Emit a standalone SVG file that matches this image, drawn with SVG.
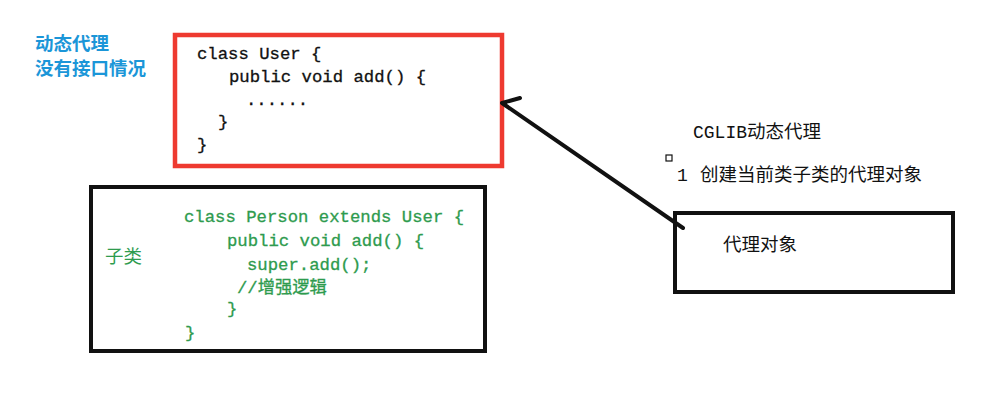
<svg xmlns="http://www.w3.org/2000/svg" width="1002" height="409" viewBox="0 0 1002 409">
<style>
.code{font-family:"Liberation Mono","Noto Sans CJK SC",monospace;font-size:17.3px;fill:#111;stroke:#111;stroke-width:0.3}
.green{fill:#2e9b4e;stroke:#2e9b4e}
.blue{font-family:"Noto Sans CJK SC",sans-serif;font-size:18.5px;font-weight:bold;fill:#1b96d8}
.note{font-family:"Liberation Mono","Noto Sans CJK SC",monospace;font-size:18px;fill:#111}
.cjk{font-family:"Noto Sans CJK SC",sans-serif;font-size:18.5px}
.box{fill:none;stroke:#111;stroke-width:4}
</style>
<rect width="1002" height="409" fill="#ffffff"/>
<g id="label-dynamic">
<text class="blue" x="35" y="50">动态代理</text>
<text class="blue" x="35" y="75">没有接口情况</text>
</g>
<g id="node-user">
<rect x="175" y="35" width="327" height="131" fill="none" stroke="#ee3a30" stroke-width="4.5"/>
<text class="code" x="197" y="59">class User {</text>
<text class="code" x="229" y="82">public void add() {</text>
<text class="code" x="246" y="105">......</text>
<text class="code" x="218" y="127">}</text>
<text class="code" x="197" y="150">}</text>
</g>
<g id="node-person">
<rect class="box" x="91" y="187" width="394" height="164"/>
<text class="cjk" x="105" y="263" fill="#2e9b4e">子类</text>
<text class="code green" x="184" y="222">class Person extends User {</text>
<text class="code green" x="227" y="246">public void add() {</text>
<text class="code green" x="247" y="270">super.add();</text>
<text class="code green" x="237" y="293">//增强逻辑</text>
<text class="code green" x="227" y="314">}</text>
<text class="code green" x="185" y="338">}</text>
</g>
<g id="label-cglib">
<text class="note" x="693" y="138">CGLIB<tspan class="cjk">动态代理</tspan></text>
<rect x="666" y="155" width="6" height="6" fill="none" stroke="#111" stroke-width="1.2"/>
<text class="note" x="677" y="181">1 <tspan class="cjk" x="700" font-size="19px">创建当前类子类的代理对象</tspan></text>
</g>
<g id="node-proxy">
<rect class="box" x="675" y="213" width="278" height="79"/>
<text class="cjk" x="723" y="251" fill="#111">代理对象</text>
</g>
<g id="connectors">
<path d="M683,228 L502,103 L520,98" fill="none" stroke="#111" stroke-width="4" stroke-linecap="round" stroke-linejoin="round"/>
</g>
</svg>
